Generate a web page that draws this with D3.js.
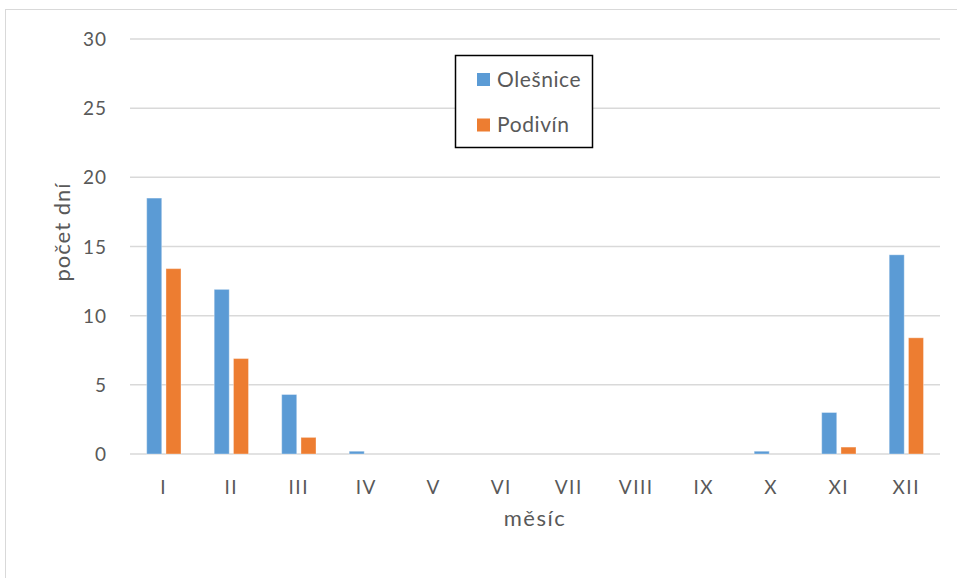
<!DOCTYPE html>
<html>
<head>
<meta charset="utf-8">
<script src="https://cdn.jsdelivr.net/npm/d3@7"></script>
<style>
  html, body { margin: 0; padding: 0; background: #fff; }
  svg { display: block; }
  text { font-family: Lato, "Open Sans", sans-serif; fill: #595959; }
</style>
</head>
<body>
<svg id="chart" width="957" height="578"></svg>
<script>
// Monthly counts of days per station
const months = ["I", "II", "III", "IV", "V", "VI", "VII", "VIII", "IX", "X", "XI", "XII"];
const seriesNames = ["Olešnice", "Podivín"];
const olesnice = [18.5, 11.9, 4.3, 0.2, 0, 0, 0, 0, 0, 0.2, 3.0, 14.4];
const podivin = [13.4, 6.9, 1.2, 0, 0, 0, 0, 0, 0, 0, 0.5, 8.4];
const yTicks = [0, 5, 10, 15, 20, 25, 30];
const colors = ["#5b9bd5", "#ed7d31"];

const svg = d3.select("#chart");

// outer chart frame
svg.append("rect")
  .attr("x", 5.5).attr("y", 9.5)
  .attr("width", 960).attr("height", 580)
  .attr("fill", "none").attr("stroke", "#d9d9d9").attr("stroke-width", 1);

const plot = { left: 130, right: 940, top: 39, bottom: 454 };

const y = d3.scaleLinear().domain([0, 30]).range([plot.bottom, plot.top]);
const x0 = d3.scaleBand().domain(months).range([plot.left, plot.right]).padding(0);
const x1 = d3.scaleBand().domain(seriesNames).range([16.7, 51]).paddingInner(0.22);

// horizontal gridlines
svg.append("g").selectAll("line").data(yTicks).join("line")
  .attr("x1", plot.left).attr("x2", plot.right)
  .attr("y1", d => y(d)).attr("y2", d => y(d))
  .attr("stroke", "#d9d9d9").attr("stroke-width", 1.5);

// y axis labels
const yAxis = d3.axisLeft(y).tickValues(yTicks).tickSize(0).tickPadding(0);
const gy = svg.append("g").attr("transform", "translate(107,0)").call(yAxis);
gy.select(".domain").remove();
gy.selectAll("text")
  .attr("font-family", "Lato, 'Open Sans', sans-serif")
  .attr("font-size", 19).attr("fill", "#595959").attr("dy", "0.35em")
  .attr("letter-spacing", 1);

// x axis labels
const xAxis = d3.axisBottom(x0).tickSize(0).tickPadding(0);
const gx = svg.append("g").attr("transform", "translate(0,481)").call(xAxis);
gx.select(".domain").remove();
gx.selectAll("text")
  .attr("font-family", "Lato, 'Open Sans', sans-serif")
  .attr("font-size", 19).attr("fill", "#595959").attr("dy", "0.35em").attr("y", 6)
  .attr("letter-spacing", 1.5);

// bars
const data = months.map((m, i) => ({ month: m, values: [olesnice[i], podivin[i]] }));
const groups = svg.append("g").selectAll("g").data(data).join("g")
  .attr("transform", d => `translate(${x0(d.month)},0)`);
groups.selectAll("rect")
  .data(d => d.values.map((v, k) => ({ name: seriesNames[k], value: v, k })))
  .join("rect")
  .filter(d => d.value > 0)
  .attr("x", d => x1(d.name))
  .attr("width", x1.bandwidth())
  .attr("y", d => y(d.value))
  .attr("height", d => y(0) - y(d.value))
  .attr("fill", d => colors[d.k])
  .attr("stroke", "rgba(255,255,255,0.35)")
  .attr("stroke-width", 1);

// axis titles
svg.append("text")
  .attr("transform", "translate(62,232) rotate(-90)")
  .attr("text-anchor", "middle").attr("dy", "0.35em")
  .attr("font-size", 22).attr("letter-spacing", 1).text("počet dní");
svg.append("text")
  .attr("x", 535).attr("y", 518)
  .attr("text-anchor", "middle").attr("dy", "0.35em")
  .attr("font-size", 22).attr("letter-spacing", 1.5).text("měsíc");

// legend
const legend = svg.append("g");
legend.append("rect")
  .attr("x", 455.5).attr("y", 55.5).attr("width", 137).attr("height", 92)
  .attr("fill", "#fff").attr("stroke", "#000").attr("stroke-width", 1.5);
const items = legend.selectAll("g").data(seriesNames).join("g")
  .attr("transform", (d, i) => `translate(477,${73 + i * 45.5})`);
items.append("rect")
  .attr("width", 13).attr("height", 13)
  .attr("fill", (d, i) => colors[i]);
items.append("text")
  .attr("x", 20).attr("y", 6.5).attr("dy", "0.35em")
  .attr("font-size", 21).attr("letter-spacing", 0.6).text(d => d);
</script>
</body>
</html>
